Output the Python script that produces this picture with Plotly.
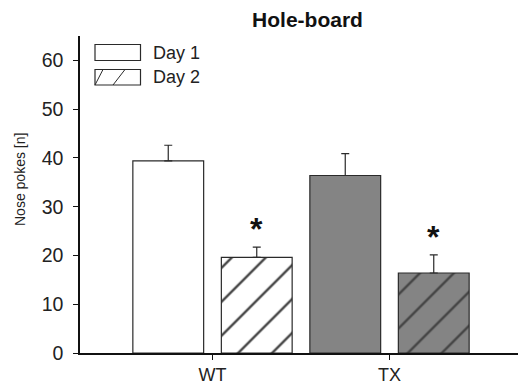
import plotly.graph_objects as go

# ---- data ----
groups = ["WT", "TX"]
day1_values = [39.4, 36.4]
day1_errors = [3.2, 4.5]
day2_values = [19.6, 16.4]
day2_errors = [2.1, 3.7]
y_ticks = [0, 10, 20, 30, 40, 50, 60]
sig_marks = ["*", "*"]

W, H = 518, 388
ML, MR, MT, MB = 80, 0, 36, 35
FONT = "Liberation Sans, Arial, sans-serif"
EDGE = "#2a2a2a"
GRAY = "#848484"

def px(x):
    return (x - ML) / (W - ML - MR)

def py(y):
    return 1 - (y - MT) / (H - MT - MB)

fig = go.Figure()

fig.add_trace(go.Bar(
    x=groups, y=day1_values, name="Day 1",
    marker=dict(color=["white", GRAY], line=dict(color=EDGE, width=1.2)),
    error_y=dict(type="data", array=day1_errors, arrayminus=[0, 0], symmetric=False,
                 color=EDGE, thickness=1.2, width=4),
    showlegend=False,
))
fig.add_trace(go.Bar(
    x=groups, y=day2_values, name="Day 2",
    marker=dict(color=["white", GRAY], line=dict(color=EDGE, width=1.2),
                pattern=dict(shape="/", size=24, solidity=0.1, fgcolor="#000000",
                             fgopacity=1, fillmode="overlay")),
    error_y=dict(type="data", array=day2_errors, arrayminus=[0, 0], symmetric=False,
                 color=EDGE, thickness=1.2, width=4),
    showlegend=False,
))

# significance asterisks above Day 2 bars
for i, (g, v, e, s) in enumerate(zip(groups, day2_values, day2_errors, sig_marks)):
    fig.add_annotation(x=i + 0.25, y=v + e, xref="x", yref="y", text="<b>%s</b>" % s,
                       showarrow=False, yanchor="bottom", yshift=-2,
                       font=dict(family=FONT, size=32, color="#111"))

# manual legend
shapes = []
legend_items = [("Day 1", 44.5, 60.5, False), ("Day 2", 69.5, 85, True)]
for label, y0, y1, hatched in legend_items:
    shapes.append(dict(type="rect", xref="paper", yref="paper",
                       x0=px(95), x1=px(140.5), y0=py(y1), y1=py(y0),
                       line=dict(color=EDGE, width=1.2), fillcolor="white"))
    if hatched:
        for (a, b) in [((95, y1), (103, y0)), ((113, y1), (125, y0))]:
            shapes.append(dict(type="line", xref="paper", yref="paper",
                               x0=px(a[0]), y0=py(a[1]), x1=px(b[0]), y1=py(b[1]),
                               line=dict(color=EDGE, width=1)))
    fig.add_annotation(x=px(151), y=py((y0 + y1) / 2), xref="paper", yref="paper",
                       text=label, showarrow=False, xanchor="left", yanchor="middle",
                       font=dict(family=FONT, size=18, color="#222"))

# y-axis title
fig.add_annotation(x=px(20), y=py(180), xref="paper", yref="paper",
                   text="Nose pokes [n]", textangle=-90, showarrow=False,
                   xanchor="center", yanchor="middle",
                   font=dict(family=FONT, size=14, color="#222"))

fig.update_layout(
    width=W, height=H,
    margin=dict(l=ML, r=MR, t=MT, b=MB),
    paper_bgcolor="white", plot_bgcolor="white",
    barmode="group", bargap=0.0, bargroupgap=0.2,
    shapes=shapes,
    title=dict(text="<b>Hole-board</b>", x=px(307.5), xref="paper", xanchor="center",
               y=1 - 20 / H, yref="container", yanchor="middle",
               font=dict(family=FONT, size=21, color="#111")),
    font=dict(family=FONT, color="#222"),
)

fig.update_xaxes(
    type="category", range=[-0.7486, 1.726],
    showline=True, linecolor="#111", linewidth=1.5,
    ticks="outside", ticklen=5, tickwidth=1.2, tickcolor="#111",
    tickfont=dict(family=FONT, size=18, color="#222"),
    showgrid=False, zeroline=False,
)
fig.update_yaxes(
    range=[0, 65], tickvals=y_ticks,
    showline=True, linecolor="#111", linewidth=1.5,
    ticks="outside", ticklen=5, tickwidth=1.2, tickcolor="#111",
    tickfont=dict(family=FONT, size=19.5, color="#222"),
    ticklabelstandoff=6,
    showgrid=False, zeroline=False,
)

fig.write_html("out.html", config={"displayModeBar": False},
               post_script="document.body.style.margin='0';")
